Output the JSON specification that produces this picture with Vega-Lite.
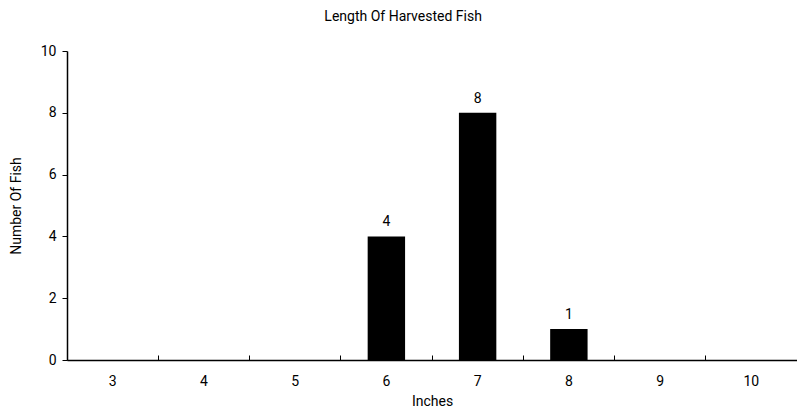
{
  "$schema": "https://vega.github.io/schema/vega-lite/v6.json",
  "autosize": "none",
  "width": 730,
  "height": 309,
  "padding": {"left": 67, "top": 51, "right": 0, "bottom": 54},
  "background": "white",
  "config": {
    "font": "Roboto",
    "view": {"stroke": null}
  },
  "title": {
    "text": "Length Of Harvested Fish",
    "fontSize": 14,
    "fontWeight": "normal",
    "color": "black",
    "anchor": "middle",
    "frame": "bounds",
    "offset": 20
  },
  "data": {
    "values": [
      {"inches": "3", "count": 0},
      {"inches": "4", "count": 0},
      {"inches": "5", "count": 0},
      {"inches": "6", "count": 4},
      {"inches": "7", "count": 8},
      {"inches": "8", "count": 1},
      {"inches": "9", "count": 0},
      {"inches": "10", "count": 0}
    ]
  },
  "encoding": {
    "x": {
      "field": "inches",
      "type": "ordinal",
      "sort": null,
      "scale": {"paddingInner": 0, "paddingOuter": 0},
      "axis": {
        "title": "Inches",
        "labelAngle": 0,
        "labelFontSize": 14,
        "titleFontSize": 14,
        "titleFontWeight": "normal",
        "labelColor": "black",
        "titleColor": "black",
        "domainColor": "black",
        "domainWidth": 1.5,
        "tickColor": "black",
        "tickSize": -5,
        "bandPosition": 0,
        "labelPadding": 19,
        "titlePadding": 6
      }
    },
    "y": {
      "field": "count",
      "type": "quantitative",
      "scale": {"domain": [0, 10]},
      "axis": {
        "title": "Number Of Fish",
        "values": [0, 2, 4, 6, 8, 10],
        "grid": false,
        "labelFontSize": 14,
        "titleFontSize": 14,
        "titleFontWeight": "normal",
        "labelColor": "black",
        "titleColor": "black",
        "domainColor": "black",
        "domainWidth": 1.5,
        "tickColor": "black",
        "tickSize": 5,
        "labelPadding": 6,
        "titlePadding": 17
      }
    }
  },
  "layer": [
    {
      "mark": {"type": "bar", "color": "black", "width": {"band": 0.41}}
    },
    {
      "transform": [{"filter": "datum.count > 0"}],
      "mark": {"type": "text", "baseline": "bottom", "dy": -7, "fontSize": 14, "color": "black"},
      "encoding": {"text": {"field": "count", "type": "quantitative"}}
    }
  ]
}
